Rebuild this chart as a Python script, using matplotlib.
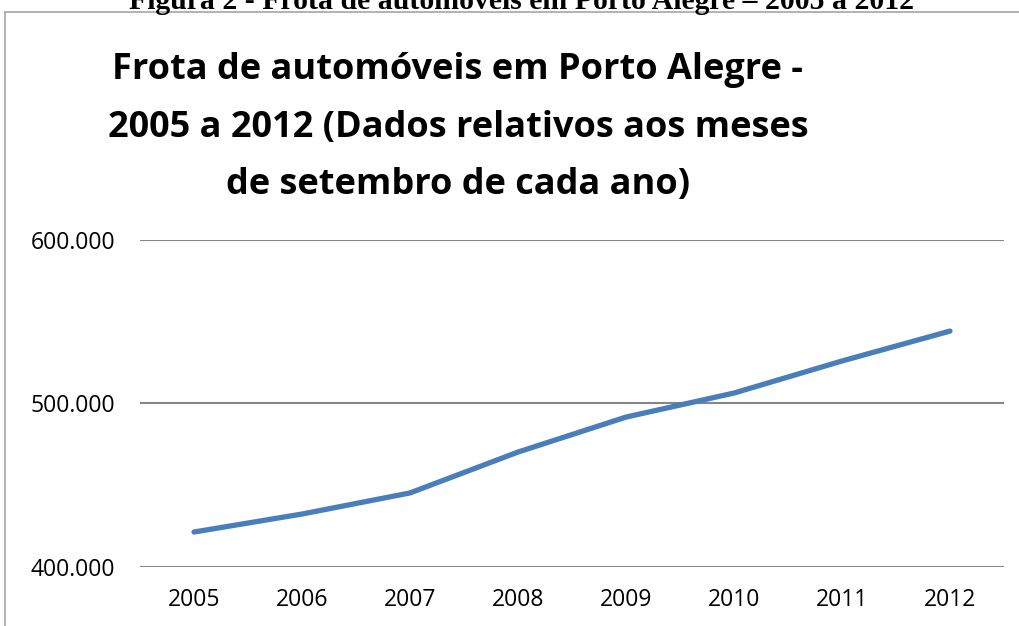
import numpy as np
import matplotlib.pyplot as plt
from matplotlib.lines import Line2D

anos = ['2005', '2006', '2007', '2008', '2009', '2010', '2011', '2012']
frota = [421400, 432400, 445300, 470300, 491700, 506400, 526000, 544300]
yticks = [400000, 500000, 600000]
ylabels = ['400.000', '500.000', '600.000']
titulo = ['Frota de automóveis em Porto Alegre -',
          '2005 a 2012 (Dados relativos aos meses',
          'de setembro de cada ano)']

W, H = 1020, 626
fig = plt.figure(figsize=(W / 100, H / 100), dpi=100)

# moldura do grafico (canto superior esquerdo)
frame_col = '#a6a6a6'
fig.add_artist(Line2D([5 / W, 5 / W], [0, 1 - 12 / H], color=frame_col, lw=1.2))
fig.add_artist(Line2D([5 / W, 1], [1 - 12 / H, 1 - 12 / H], color=frame_col, lw=1.2))

# legenda da figura, cortada no topo
fig.text(522 / W, 1 - 9 / H, 'Figura 2 - Frota de automóveis em Porto Alegre – 2005 a 2012',
         ha='center', va='baseline', fontsize=21.4, fontweight='bold',
         family='Liberation Serif')

for i, linha in enumerate(titulo):
    fig.text(458 / W, 1 - (70 + 57.5 * i) / H, linha,
             ha='center', va='center', fontsize=26, fontweight='bold',
             family='Open Sans')

ax = fig.add_axes([140 / W, 1 - 567 / H, 864 / W, 327 / H])
x = np.arange(len(anos))
ax.plot(x, frota, color='#4a7ebb', lw=3.8, solid_capstyle='round', solid_joinstyle='round')
ax.set_xlim(-0.5, len(anos) - 0.5)
ax.set_ylim(400000, 600000)
ax.set_yticks(yticks)
ax.set_yticklabels(ylabels)
ax.set_xticks(x)
ax.set_xticklabels(anos)
for s in ax.spines.values():
    s.set_visible(False)
ax.grid(axis='y', color='#868686', lw=1.5)
ax.set_axisbelow(True)
ax.tick_params(length=0)
ax.tick_params(axis='y', pad=18)
ax.tick_params(axis='x', pad=15)
for lab in ax.get_xticklabels() + ax.get_yticklabels():
    lab.set_fontsize(16.5)
    lab.set_family('Open Sans')

fig.savefig('out.png', dpi=100)
